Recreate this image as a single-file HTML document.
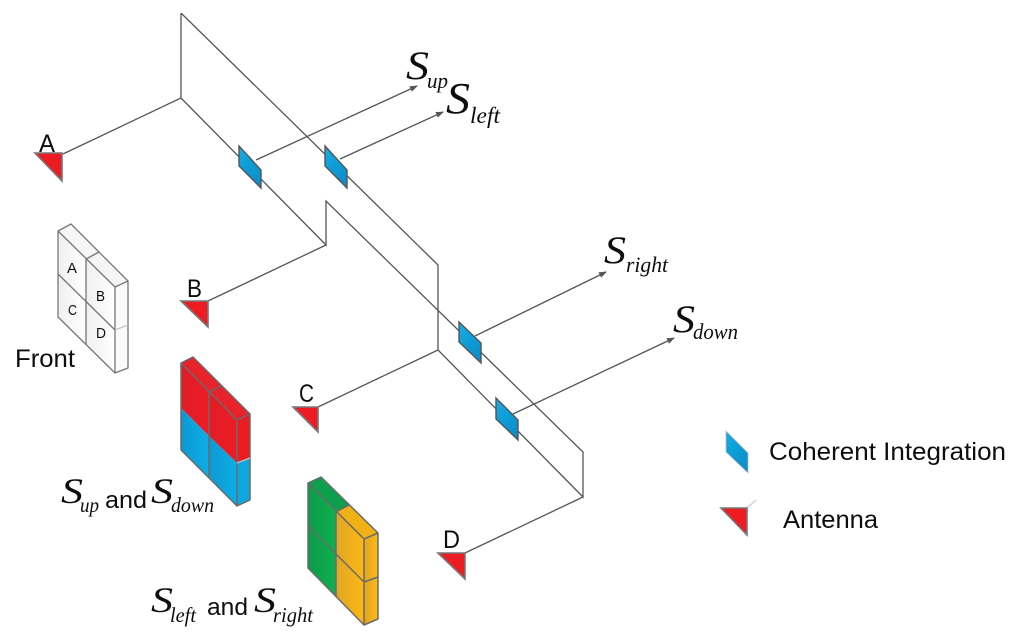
<!DOCTYPE html>
<html><head><meta charset="utf-8"><style>
html,body{margin:0;padding:0;background:#fff;width:1024px;height:638px;overflow:hidden}
svg{display:block}
.l{fill:none;stroke:#555;stroke-width:1.3}
.a{fill:#ed1c24;stroke:#777;stroke-width:1.6;stroke-linejoin:miter}
.p{fill:url(#b);stroke:#555;stroke-width:1.4}
.e{fill:none;stroke:#6a6a6a;stroke-width:1.5;stroke-linejoin:round}
.s{font-family:"Liberation Sans",sans-serif;fill:#111}
.m{font-family:"Liberation Serif",serif;font-style:italic;fill:#111}
</style></head><body>
<svg width="1024" height="638" viewBox="0 0 1024 638" xmlns="http://www.w3.org/2000/svg">
<defs>
<linearGradient id="b" x1="0" y1="0" x2="0.4" y2="1"><stop offset="0" stop-color="#13aee6"/><stop offset="1" stop-color="#0f8fca"/></linearGradient>
<linearGradient id="w" x1="0" y1="0" x2="1" y2="0"><stop offset="0" stop-color="#f0f0f0"/><stop offset="1" stop-color="#fff"/></linearGradient>
<linearGradient id="r" x1="0" y1="0" x2="1" y2="0"><stop offset="0" stop-color="#e21f27"/><stop offset="1" stop-color="#ed1c24"/></linearGradient>
<linearGradient id="c" x1="0" y1="0" x2="1" y2="0"><stop offset="0" stop-color="#0f98d3"/><stop offset="1" stop-color="#10aee6"/></linearGradient>
<linearGradient id="g" x1="0" y1="0" x2="1" y2="0"><stop offset="0" stop-color="#0b9a4a"/><stop offset="1" stop-color="#0fb14f"/></linearGradient>
<linearGradient id="y" x1="0" y1="0" x2="1" y2="0"><stop offset="0" stop-color="#dfa526"/><stop offset="1" stop-color="#fdb913"/></linearGradient>
<marker id="h" markerWidth="8" markerHeight="6" refX="7" refY="3" orient="auto" markerUnits="userSpaceOnUse"><path d="M0 0L8 3L0 6z" fill="#555"/></marker>
<filter id="soft" x="0" y="0" width="100%" height="100%"><feGaussianBlur stdDeviation="0.35"/></filter>
</defs>
<g filter="url(#soft)">
<!-- wiring -->
<path class="l" d="M63 154L181 98V13L438 265V350L583 497V452L326 201V245L181 98"/>
<path class="l" d="M208 301L326 245"/>
<path class="l" d="M318 407L438 350"/>
<path class="l" d="M465 553L583 497"/>

<!-- arrows -->
<path class="l" d="M256 160L417 86" marker-end="url(#h)"/>
<path class="l" d="M340 159L443 112" marker-end="url(#h)"/>
<path class="l" d="M475 336L606 272" marker-end="url(#h)"/>
<path class="l" d="M513 414L674 338" marker-end="url(#h)"/>

<!-- integrators -->
<polygon class="p" points="239,146 261,170 261,188 239,166"/>
<polygon class="p" points="325,146 347,170 347,188 325,166"/>
<polygon class="p" points="459,322 481,343 481,363 459,342"/>
<polygon class="p" points="496,398 518,420 518,440 496,419"/>
<polygon points="726,431 748,453 748,473 726,452" fill="url(#b)" stroke="#bbb" stroke-width="0.8"/>

<!-- antennas -->
<polygon class="a" points="35,153 62,153 62,181"/>
<polygon class="a" points="181,301 208,301 208,327"/>
<polygon class="a" points="293,407 318,407 318,432"/>
<polygon class="a" points="438,553 465,553 465,579"/>
<path d="M747 508L756 500" stroke="#ccc" stroke-width="1.2"/>
<polygon class="a" points="721,508 747,508 747,535"/>

<!-- front block -->
<polygon fill="url(#w)" points="58,231 86,259 86,345 58,317"/>
<polygon fill="url(#w)" points="86,259 115,287 115,373 86,345"/>
<polygon fill="#f6f6f6" points="58,231 71,224 128,281 115,287"/>
<polygon fill="#fbfbfb" points="115,287 128,281 128,368 115,373"/>
<path class="e" style="stroke-width:1.3;stroke:#777" d="M58 231L71 224L128 281V368L115 373V287L58 231V317L115 373M86 259L99 252M86 259V345M58 274L115 330M115 287L128 281"/>
<path d="M115 330L128 325" stroke="#bbb" stroke-width="1"/>

<!-- red/blue block -->
<polygon fill="url(#r)" points="181,363 209,392 209,436 181,408"/>
<polygon fill="url(#c)" points="181,408 209,436 209,477 181,450"/>
<polygon fill="url(#r)" points="209,392 237,420 237,463 209,436"/>
<polygon fill="url(#c)" points="209,436 237,463 237,506 209,477"/>
<polygon fill="#e8202a" points="181,363 193,357 250,414 237,420"/>
<polygon fill="#ed1c24" points="237,420 250,414 250,458 237,463"/>
<polygon fill="#10a8e0" points="237,463 250,458 250,500 237,506"/>
<path class="e" d="M181 363L193 357L250 414V500L237 506V420L181 363V450L237 506M209 392L221 386M209 392V477M237 420L250 414"/>
<path d="M237 463L250 458" stroke="#b5c4cc" stroke-width="1.3"/>

<!-- green/yellow block -->
<polygon fill="url(#g)" points="308,483 336,512 336,597 308,568"/>
<polygon fill="url(#y)" points="336,512 364,539 364,625 336,597"/>
<polygon fill="#0c9f4b" points="308,483 321,477 349,505 336,512"/>
<polygon fill="#f0b018" points="336,512 349,505 378,533 364,539"/>
<polygon fill="url(#y)" points="364,539 378,533 378,619 364,625"/>
<path class="e" d="M308 483L321 477L378 533V619L364 625V539L308 483V568L364 625M336 512L349 505M336 512V597M308 526L364 582L378 577M364 539L378 533"/>

<!-- letters -->
<text class="s" x="39" y="152" font-size="25" textLength="16" lengthAdjust="spacingAndGlyphs">A</text>
<text class="s" x="187" y="297" font-size="25" textLength="15" lengthAdjust="spacingAndGlyphs">B</text>
<text class="s" x="299" y="402" font-size="25" textLength="15" lengthAdjust="spacingAndGlyphs">C</text>
<text class="s" x="443" y="548" font-size="25" textLength="17" lengthAdjust="spacingAndGlyphs">D</text>
<text class="s" x="67" y="273" font-size="15" textLength="10" lengthAdjust="spacingAndGlyphs">A</text>
<text class="s" x="96" y="301" font-size="15" textLength="9" lengthAdjust="spacingAndGlyphs">B</text>
<text class="s" x="68" y="315" font-size="15" textLength="9" lengthAdjust="spacingAndGlyphs">C</text>
<text class="s" x="96" y="338" font-size="15" textLength="10" lengthAdjust="spacingAndGlyphs">D</text>
<text class="s" x="15" y="367" font-size="25" textLength="60" lengthAdjust="spacingAndGlyphs">Front</text>
<text class="s" x="769" y="460" font-size="25" textLength="237" lengthAdjust="spacingAndGlyphs">Coherent Integration</text>
<text class="s" x="783" y="528" font-size="25" textLength="95" lengthAdjust="spacingAndGlyphs">Antenna</text>

<!-- signal labels -->
<text class="m" x="406" y="79" font-size="40" textLength="23" lengthAdjust="spacingAndGlyphs">S</text>
<text class="m" x="427" y="88" font-size="22" textLength="21" lengthAdjust="spacingAndGlyphs">up</text>
<text class="m" x="446" y="113" font-size="44" textLength="24" lengthAdjust="spacingAndGlyphs">S</text>
<text class="m" x="470" y="123" font-size="23" textLength="30" lengthAdjust="spacingAndGlyphs">left</text>
<text class="m" x="604" y="263" font-size="39" textLength="22" lengthAdjust="spacingAndGlyphs">S</text>
<text class="m" x="626" y="272" font-size="22" textLength="42" lengthAdjust="spacingAndGlyphs">right</text>
<text class="m" x="673" y="332" font-size="39" textLength="22" lengthAdjust="spacingAndGlyphs">S</text>
<text class="m" x="693" y="339" font-size="22" textLength="45" lengthAdjust="spacingAndGlyphs">down</text>

<text class="m" x="61" y="503" font-size="36" textLength="22" lengthAdjust="spacingAndGlyphs">S</text>
<text class="m" x="80" y="512" font-size="21" textLength="19" lengthAdjust="spacingAndGlyphs">up</text>
<text class="s" x="105" y="508" font-size="24" textLength="42" lengthAdjust="spacingAndGlyphs">and</text>
<text class="m" x="151" y="503" font-size="36" textLength="22" lengthAdjust="spacingAndGlyphs">S</text>
<text class="m" x="171" y="512" font-size="21" textLength="43" lengthAdjust="spacingAndGlyphs">down</text>

<text class="m" x="151" y="612" font-size="36" textLength="22" lengthAdjust="spacingAndGlyphs">S</text>
<text class="m" x="170" y="622" font-size="21" textLength="26" lengthAdjust="spacingAndGlyphs">left</text>
<text class="s" x="207" y="615" font-size="24" textLength="41" lengthAdjust="spacingAndGlyphs">and</text>
<text class="m" x="254" y="612" font-size="36" textLength="22" lengthAdjust="spacingAndGlyphs">S</text>
<text class="m" x="273" y="622" font-size="21" textLength="40" lengthAdjust="spacingAndGlyphs">right</text>
</g>
</svg>
</body></html>
